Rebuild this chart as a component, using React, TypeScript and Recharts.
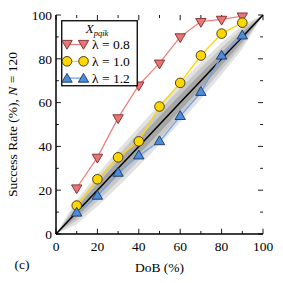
import React from 'react';
import {
  ComposedChart, Line, Area, XAxis, YAxis, ReferenceLine, Label,
} from 'recharts';

// degree of balance (%) where the success rate was measured
const dob = [10, 20, 30, 40, 50, 60, 70, 80, 90];
// success rate (%) for each lambda
const rateL08 = [21, 35, 53, 68, 78, 90, 97, 98, 99.5];
const rateL10 = [13, 25, 35, 42.3, 58.2, 69, 81.5, 91.5, 96.5];
const rateL12 = [9.6, 17.3, 27.8, 35.7, 42.2, 53.7, 64.7, 81.3, 90.5];

// grey bands around the diagonal (half widths, %)
const bandX = [0, 10, 20, 30, 40, 50, 60, 70, 80, 90, 100];
const bandInner = [0, 2.2, 2.9, 3.3, 3.6, 3.6, 3.6, 3.3, 2.9, 2.2, 0];
const bandMid = [0, 3.8, 5.1, 5.9, 6.3, 6.4, 6.3, 5.9, 5.1, 3.8, 0];
const bandOuter = [0, 5.5, 7.3, 8.4, 8.9, 9.1, 8.9, 8.4, 7.3, 5.5, 0];

const ticks = [0, 20, 40, 60, 80, 100];
const minorTicks = [10, 30, 50, 70, 90];

const data = bandX.map((x, i) => {
  const j = dob.indexOf(x);
  return {
    x,
    diag: x,
    inner: [x - bandInner[i], x + bandInner[i]],
    mid: [x - bandMid[i], x + bandMid[i]],
    outer: [x - bandOuter[i], x + bandOuter[i]],
    l08: j >= 0 ? rateL08[j] : null,
    l10: j >= 0 ? rateL10[j] : null,
    l12: j >= 0 ? rateL12[j] : null,
  };
});

const FONT = 'Liberation Serif';

const RED = '#f08080';
const RED_FILL = '#ea7577';
const YEL = '#ffd700';
const YEL_FILL = '#ffd700';
const BLUE = '#6fa4ec';
const BLUE_FILL = '#4a8ddc';

const triDown = (fill: string, stroke: string) => (p: any) => {
  const { cx, cy, index } = p;
  if (cx == null || cy == null || p.value == null) return <g key={index} />;
  const s = 5.2;
  return (
    <polygon key={index} points={`${cx - s},${cy - s * 0.6} ${cx + s},${cy - s * 0.6} ${cx},${cy + s * 1.1}`}
      fill={fill} stroke={stroke} strokeWidth={0.9} />
  );
};
const triUp = (fill: string, stroke: string) => (p: any) => {
  const { cx, cy, index } = p;
  if (cx == null || cy == null || p.value == null) return <g key={index} />;
  const s = 5.2;
  return (
    <polygon key={index} points={`${cx - s},${cy + s * 0.6} ${cx + s},${cy + s * 0.6} ${cx},${cy - s * 1.1}`}
      fill={fill} stroke={stroke} strokeWidth={0.9} />
  );
};
const circ = (fill: string, stroke: string) => (p: any) => {
  const { cx, cy, index } = p;
  if (cx == null || cy == null || p.value == null) return <g key={index} />;
  return <circle key={index} cx={cx} cy={cy} r={4.8} fill={fill} stroke={stroke} strokeWidth={0.9} />;
};

const legendRows = [
  { label: '0.8', line: RED, shape: 'down', fill: RED_FILL, stroke: '#7a2a2a' },
  { label: '1.0', line: YEL, shape: 'circle', fill: YEL_FILL, stroke: '#3a3000' },
  { label: '1.2', line: BLUE, shape: 'up', fill: BLUE_FILL, stroke: '#1c3560' },
];

const LegendBox = () => (
  <svg width={78} height={68} style={{ position: 'absolute', left: 61, top: 20 }}>
    <rect x={0.75} y={0.75} width={75.5} height={65} fill="#fff" stroke="#000" strokeWidth={1.3} />
    <text x={36} y={13} textAnchor="middle" fontFamily={FONT} fontSize={13} fontStyle="italic">
      X<tspan fontSize={8.5} dy={2.5}>pqik</tspan>
    </text>
    {legendRows.map((r, i) => {
      const y = 24.5 + i * 16.8;
      const a = 6, b = 22.5;
      const marker = (cx: number) =>
        r.shape === 'circle'
          ? circ(r.fill, r.stroke)({ cx, cy: y, index: cx, value: 1 })
          : r.shape === 'down'
            ? triDown(r.fill, r.stroke)({ cx, cy: y - 1, index: cx, value: 1 })
            : triUp(r.fill, r.stroke)({ cx, cy: y + 1, index: cx, value: 1 });
      return (
        <g key={r.label}>
          <line x1={a} x2={b} y1={y} y2={y} stroke={r.line} strokeWidth={1.3} />
          {marker(a)}
          {marker(b)}
          <text x={31} y={y + 4.5} fontFamily={FONT} fontSize={13.5}>λ = {r.label}</text>
        </g>
      );
    })}
  </svg>
);

const tickSeg = (pos: number, len: number, axis: 'x' | 'y', side: 'lo' | 'hi') => {
  if (axis === 'x') {
    const y0 = side === 'lo' ? 0 : 100;
    const y1 = side === 'lo' ? len : 100 - len;
    return [{ x: pos, y: y0 }, { x: pos, y: y1 }];
  }
  const x0 = side === 'lo' ? 0 : 100;
  const x1 = side === 'lo' ? len : 100 - len;
  return [{ x: x0, y: pos }, { x: x1, y: pos }];
};

export default function App() {
  const tickStyle = { fontFamily: FONT, fontSize: 13.5, fill: '#000' };
  const segs: any[] = [];
  (['lo', 'hi'] as const).forEach((side) => {
    ticks.forEach((t) => {
      segs.push(tickSeg(t, 2.4, 'x', side));
      segs.push(tickSeg(t, 2.4, 'y', side));
    });
    minorTicks.forEach((t) => {
      segs.push(tickSeg(t, 1.4, 'x', side));
      segs.push(tickSeg(t, 1.4, 'y', side));
    });
  });

  return (
    <div style={{ position: 'relative', width: 283, height: 283, fontFamily: FONT }}>
      <style>{'body{margin:0}'}</style>
      <ComposedChart width={283} height={283} data={data}
        margin={{ top: 15, right: 20, bottom: 0, left: 0 }}>
        <XAxis xAxisId="b" dataKey="x" type="number" domain={[0, 100]} ticks={ticks}
          height={49} tickSize={0} tickMargin={7} tickLine={false}
          axisLine={{ stroke: '#000', strokeWidth: 1.5 }} tick={tickStyle}>
          <Label value="DoB (%)" position="insideBottom" offset={11}
            style={{ fontFamily: FONT, fontSize: 13.5, fill: '#000' }} />
          <Label content={() => (
            <text x={22} y={269} textAnchor="middle" fontFamily={FONT} fontSize={13.5}>(c)</text>
          )} />
        </XAxis>
        <XAxis xAxisId="t" dataKey="x" type="number" domain={[0, 100]} orientation="top"
          height={0} tick={false} tickLine={false} axisLine={{ stroke: '#000', strokeWidth: 1.5 }} />
        <YAxis yAxisId="l" type="number" domain={[0, 100]} ticks={ticks} width={56}
          tickSize={0} tickMargin={4} tickLine={false}
          axisLine={{ stroke: '#000', strokeWidth: 1.5 }} tick={tickStyle}>
          <Label content={(p: any) => {
            const vb = p.viewBox || { x: 0, y: 15, height: 219 };
            const cx = 12;
            const cy = vb.y + vb.height / 2;
            return (
              <text x={cx} y={cy} transform={`rotate(-90 ${cx} ${cy})`} textAnchor="middle"
                dominantBaseline="central" fontFamily={FONT} fontSize={13.5}>
                Success Rate (%), <tspan fontStyle="italic">N</tspan> = 120
              </text>
            );
          }} />
        </YAxis>
        <YAxis yAxisId="r" type="number" domain={[0, 100]} orientation="right" width={0}
          tick={false} tickLine={false} axisLine={{ stroke: '#000', strokeWidth: 1.5 }} />

        <Area xAxisId="b" yAxisId="l" dataKey="outer" type="linear" stroke="none" fill="#e2e2e2" fillOpacity={1} isAnimationActive={false} />
        <Area xAxisId="b" yAxisId="l" dataKey="mid" type="linear" stroke="none" fill="#c8c8c8" fillOpacity={1} isAnimationActive={false} />
        <Area xAxisId="b" yAxisId="l" dataKey="inner" type="linear" stroke="none" fill="#a6a6a6" fillOpacity={1} isAnimationActive={false} />
        <Line xAxisId="b" yAxisId="l" dataKey="diag" type="linear" stroke="#000" strokeWidth={1.5} dot={false} isAnimationActive={false} />

        {segs.map((s, i) => (
          <ReferenceLine key={i} xAxisId="b" yAxisId="l" segment={s} stroke="#000" strokeWidth={0.9} />
        ))}

        <Line xAxisId="b" yAxisId="l" dataKey="l08" type="linear" stroke={RED} strokeWidth={1.3}
          dot={triDown(RED_FILL, '#7a2a2a')} activeDot={false} isAnimationActive={false} />
        <Line xAxisId="b" yAxisId="l" dataKey="l10" type="linear" stroke={YEL} strokeWidth={1.3}
          dot={circ(YEL_FILL, '#3a3000')} activeDot={false} isAnimationActive={false} />
        <Line xAxisId="b" yAxisId="l" dataKey="l12" type="linear" stroke={BLUE} strokeWidth={1.3}
          dot={triUp(BLUE_FILL, '#1c3560')} activeDot={false} isAnimationActive={false} />
      </ComposedChart>
      <LegendBox />
    </div>
  );
}
